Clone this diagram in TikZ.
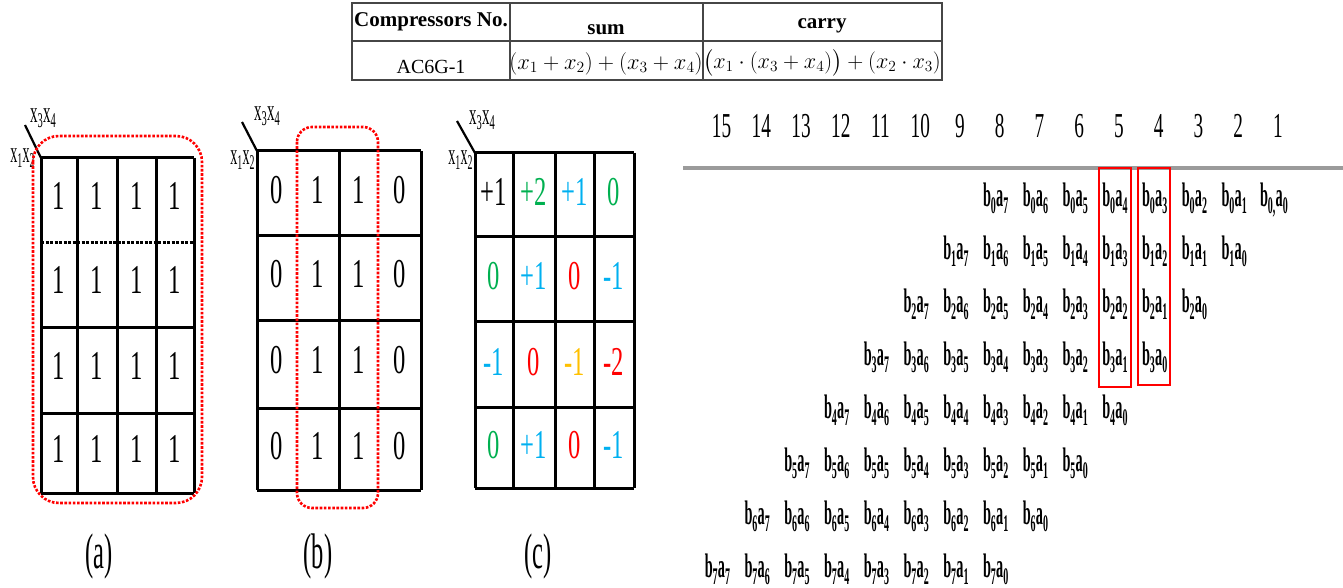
\documentclass[tikz,border=0pt]{standalone}
\usepackage{amsmath}
\usepackage{fontspec}
\setmainfont{Liberation Serif}
\usepackage{graphicx}
\usetikzlibrary{calc}
\definecolor{kgreen}{RGB}{0,176,80}
\definecolor{kcyan}{RGB}{0,176,240}
\definecolor{kred}{RGB}{255,0,0}
\definecolor{korange}{RGB}{255,192,0}
\definecolor{tabline}{RGB}{70,70,70}
\definecolor{rulegray}{RGB}{155,155,155}
\newcommand{\hsq}[2]{\scalebox{#1}[1]{#2}}
\newcommand{\kd}[1]{\hsq{0.6}{#1}}
\begin{document}
\begin{tikzpicture}[x=1pt,y=-1pt,
  kgrid/.style={line width=3pt, black},
  kdash/.style={line width=3pt, black, dash pattern=on 3pt off 1.5pt},
  redloop/.style={line width=2.6pt, kred, dash pattern=on 2.6pt off 1.6pt},
  diag/.style={line width=2.2pt, black},
  kdig/.style={inner sep=0pt, font=\fontsize{41}{41}\selectfont},
  xlab/.style={inner sep=0pt, font=\fontsize{30}{30}\selectfont},
  sublab/.style={inner sep=0pt, anchor=base, font=\fontsize{50}{50}\selectfont},
  tab/.style={line width=1.2pt, tabline},
  tabbold/.style={inner sep=0pt, font=\bfseries\fontsize{21}{21}\selectfont},
  tabtxt/.style={inner sep=0pt, font=\fontsize{20}{20}\selectfont},
  colnum/.style={inner sep=0pt, anchor=base, font=\fontsize{35}{35}\selectfont},
  term/.style={inner sep=0pt, anchor=base, font=\bfseries\fontsize{34}{34}\selectfont},
  redbox/.style={line width=2.4pt, kred}
]
\useasboundingbox (0,0) rectangle (1343,588);

% ---------------- table ----------------
\draw[tab] (352,3) rectangle (942,80);
\draw[tab] (352,41) -- (942,41);
\draw[tab] (510,3) -- (510,80);
\draw[tab] (703,3) -- (703,80);
\node[tabbold, anchor=west] (h1) at (354,22) {Compressors No.};
\node[tabbold] (h2) at (606,30) {sum};
\node[tabbold] (h3) at (822,26) {carry};
\node[tabtxt] (r1) at (431,67) {AC6G-1};
\node[tabtxt] (r2) at (606,64) {\scalebox{1.085}{$(x_1+x_2)+(x_3+x_4)$}};
\node[tabtxt] (r3) at (822,63) {\scalebox{1.07}{$\bigl(x_1\cdot(x_3+x_4)\bigr)+(x_2\cdot x_3)$}};

% ---------------- K-map (a) ----------------
\foreach \x in {41,77,117,156,194} \draw[kgrid] (\x,158) -- (\x,493);
\foreach \y in {158,327,413,493} \draw[kgrid] (41,\y) -- (194,\y);
\draw[kdash] (41,242) -- (194,242);
\draw[diag] (25,125) -- (41,158);
\node[xlab] (a34) at (43,118) {\hsq{0.5}{x\textsubscript{3}x\textsubscript{4}}};
\node[xlab, anchor=east] (a12) at (35,158) {\hsq{0.47}{x\textsubscript{1}x\textsubscript{2}}};
\foreach \xx in {59,97,136.5,175}
  \foreach \yy in {196,280,366,449}
    \node[kdig] at (\xx,\yy) {\kd{1}};
\draw[redloop, rounded corners=26pt] (33,136) rectangle (202,503);
\node[sublab] (la) at (99,568) {\hsq{0.49}{(a)}};

% ---------------- K-map (b) ----------------
\foreach \x in {257,339,421} \draw[kgrid] (\x,151) -- (\x,490);
\foreach \y in {151,235,320,408,490} \draw[kgrid] (257,\y) -- (421,\y);
\draw[diag] (242,122) -- (257,151);
\node[xlab] (b34) at (267,116) {\hsq{0.5}{x\textsubscript{3}x\textsubscript{4}}};
\node[xlab, anchor=east] (b12) at (255,160) {\hsq{0.47}{x\textsubscript{1}x\textsubscript{2}}};
\foreach \yy in {190,274,360,446} {
  \node[kdig] at (277,\yy) {\kd{0}};
  \node[kdig] at (318,\yy) {\kd{1}};
  \node[kdig] at (358.5,\yy) {\kd{1}};
  \node[kdig] at (399.5,\yy) {\kd{0}};
}
\draw[redloop, rounded corners=15pt] (297,127) rectangle (378,508);
\node[sublab] (lb) at (318,568) {\hsq{0.49}{(b)}};

% ---------------- K-map (c) ----------------
\foreach \x in {475,513,555,594,634} \draw[kgrid] (\x,153) -- (\x,488);
\foreach \y in {153,236,321,407,488} \draw[kgrid] (475,\y) -- (634,\y);
\draw[diag] (457,121) -- (475,153);
\node[xlab] (c34) at (482,120) {\hsq{0.5}{x\textsubscript{3}x\textsubscript{4}}};
\node[xlab, anchor=east] (c12) at (473,160) {\hsq{0.47}{x\textsubscript{1}x\textsubscript{2}}};
\def\cxs{{494,534,574.5,614}}
\def\cys{{192,276,362,445}}
\foreach \v/\c [count=\k from 0] in {
  +1/black, +2/kgreen, +1/kcyan, 0/kgreen,
  0/kgreen, +1/kcyan, 0/kred, -1/kcyan,
  -1/kcyan, 0/kred, -1/korange, -2/kred,
  0/kgreen, +1/kcyan, 0/kred, -1/kcyan} {
  \pgfmathtruncatemacro\rr{int(\k/4)}
  \pgfmathtruncatemacro\cc{mod(\k,4)}
  \pgfmathsetmacro\xx{\cxs[\cc]}
  \pgfmathsetmacro\yy{\cys[\rr]}
  \node[kdig, text=\c] (c\k) at (\xx,\yy) {\kd{\v}};
}
\node[sublab] (lc) at (538,568) {\hsq{0.49}{(c)}};

% ---------------- partial products ----------------
\foreach \n in {1,...,15} {
  \pgfmathsetmacro\nx{1278-(\n-1)*39.75}
  \node[colnum] (n\n) at (\nx,138) {\hsq{0.55}{\n}};
}
\draw[line width=4pt, rulegray] (683,168) -- (1343,168);
\foreach \i in {0,...,7} {
  \foreach \j in {0,...,7} {
    \pgfmathsetmacro\tx{1278-(\i+\j)*39.75-4}
    \pgfmathsetmacro\ty{206+53.1*\i}
    \node[term] (t\i\j) at (\tx,\ty) {\hsq{0.42}{b\textsubscript{\i\ifnum\numexpr\i+\j\relax=0 ,\fi}a\textsubscript{\j}}};
  }
}
\draw[redbox] (1099,168) rectangle (1131,387);
\draw[redbox] (1138,168) rectangle (1170,385);
\end{tikzpicture}
\end{document}
